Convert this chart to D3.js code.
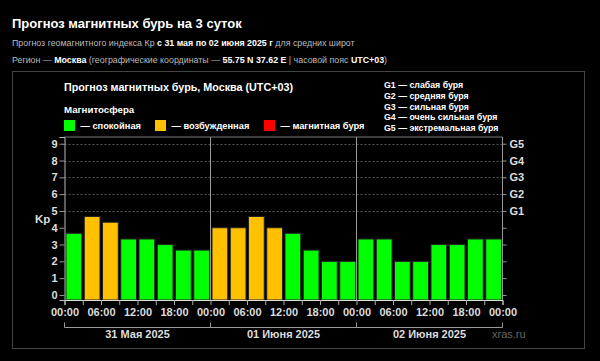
<!DOCTYPE html>
<html><head><meta charset="utf-8">
<script src="https://cdn.jsdelivr.net/npm/d3@7"></script>
<style>
html,body{margin:0;padding:0;background:#000;}
svg{display:block;font-family:"Liberation Sans",Arial,sans-serif;}
</style></head>
<body><svg id="c" width="600" height="361"></svg>
<script>
// ---- data ----
const days = ["31 Мая 2025", "01 Июня 2025", "02 Июня 2025"];
const hourLabels = ["00:00", "06:00", "12:00", "18:00"];
const kpValues = [
  3.67, 4.67, 4.33, 3.33, 3.33, 3.0, 2.67, 2.67,
  4.0, 4.0, 4.67, 4.0, 3.67, 2.67, 2.0, 2.0,
  3.33, 3.33, 2.0, 2.0, 3.0, 3.0, 3.33, 3.33
];
const kpTicks = [0,1,2,3,4,5,6,7,8,9];
const gLabels = ["G1","G2","G3","G4","G5"];
const gLegend = ["G1 — слабая буря","G2 — средняя буря","G3 — сильная буря","G4 — очень сильная буря","G5 — экстремальная буря"];
const legendItems = [
  {label:"— спокойная", color:"#00ff00"},
  {label:"— возбужденная", color:"#ffc000"},
  {label:"— магнитная буря", color:"#ff0000"}
];

const svg = d3.select("#c");

// header
svg.append("text").attr("x",12).attr("y",28).attr("fill","#fff")
  .attr("font-size",13).attr("font-weight","bold").text("Прогноз магнитных бурь на 3 суток");

function richLine(y, parts){
  const t = svg.append("text").attr("x",12).attr("y",y).attr("font-size",8.85);
  parts.forEach(p=>{
    t.append("tspan").attr("fill", p[1] ? "#fff" : "#bbb")
      .attr("font-weight", p[1] ? "bold" : "normal").text(p[0]);
  });
}
richLine(46, [["Прогноз геомагнитного индекса Кр ",0],["с 31 мая по 02 июня 2025 г",1],[" для средних широт",0]]);
richLine(63, [["Регион — ",0],["Москва",1],[" (географические координаты — ",0],["55.75 N 37.62 E",1],[" | часовой пояс ",0],["UTC+03",1],[")",0]]);

// panel
svg.append("rect").attr("x",12.5).attr("y",71.5).attr("width",572).attr("height",277)
  .attr("fill","none").attr("stroke","#444");

svg.append("text").attr("x",64).attr("y",91).attr("fill","#fff").attr("font-size",10.75)
  .attr("font-weight","bold").text("Прогноз магнитных бурь, Москва (UTC+03)");
svg.append("text").attr("x",64).attr("y",113).attr("fill","#fff").attr("font-size",9.7)
  .attr("font-weight","bold").text("Магнитосфера");

const legX = [64, 155, 264];
legendItems.forEach((d,i)=>{
  svg.append("rect").attr("x",legX[i]).attr("y",120).attr("width",11).attr("height",11).attr("fill",d.color);
  svg.append("text").attr("x",legX[i]+16.5).attr("y",128.7).attr("fill","#fff").attr("font-size",9.3)
    .attr("font-weight","bold").text(d.label);
});
gLegend.forEach((s,i)=>{
  svg.append("text").attr("x",384).attr("y",88 + i*10.8).attr("fill","#fff").attr("font-size",8.8)
    .attr("font-weight","bold").text(s);
});

// scales
const L = 64.5, R = 502.5, T = 137, B = 300;
const x = d3.scaleLinear().domain([0,72]).range([L,R]);
const y = d3.scaleLinear().domain([-0.3,9.4]).range([B,T]);
const color = v => v >= 5 ? "#ff0000" : (v >= 4 ? "#ffc000" : "#00ff00");

// grid
svg.append("g").selectAll("line").data(kpTicks.filter(k=>k>=5)).join("line")
  .attr("x1",L).attr("x2",R).attr("y1",d=>Math.round(y(d))+0.5).attr("y2",d=>Math.round(y(d))+0.5)
  .attr("stroke","#555").attr("stroke-dasharray","2,2");

// bars
const slot = x(3)-x(0);
svg.append("g").selectAll("rect").data(kpValues).join("rect")
  .attr("x",(d,i)=>x(i*3)+1.5).attr("width",slot-2.5)
  .attr("y",d=>y(d)).attr("height",d=>y(-0.3)-y(d))
  .attr("fill",d=>color(d)).attr("stroke","#222").attr("stroke-width",1);

// frame
svg.append("line").attr("x1",L).attr("x2",R).attr("y1",T).attr("y2",T).attr("stroke","#777");
svg.append("line").attr("x1",R).attr("x2",R).attr("y1",T).attr("y2",B).attr("stroke","#999");
// day separators
[1,2].forEach(k=>{
  svg.append("line").attr("x1",x(k*24)).attr("x2",x(k*24)).attr("y1",T).attr("y2",B).attr("stroke","#999");
});

// left axis
const ya = svg.append("g").attr("transform",`translate(${L},0)`)
  .call(d3.axisLeft(y).tickValues(kpTicks).tickSize(5).tickPadding(2).tickFormat(d3.format("d")));
ya.select(".domain").attr("stroke","#bbb");
ya.selectAll(".tick line").attr("stroke","#999");
ya.selectAll("text").attr("fill","#ddd").attr("font-size",11).attr("font-weight","bold")
  .attr("font-family","Liberation Sans, Arial, sans-serif");
svg.append("text").attr("x",35).attr("y",223).attr("fill","#ddd").attr("font-size",11.5)
  .attr("font-weight","bold").text("Kp");

// right axis
const ra = svg.append("g").attr("transform",`translate(${R},0)`)
  .call(d3.axisRight(y).tickValues(kpTicks).tickSize(4).tickPadding(3)
    .tickFormat(d => d >= 5 ? gLabels[d-5] : ""));
ra.select(".domain").remove();
ra.selectAll(".tick line").attr("stroke","#999");
ra.selectAll("text").attr("fill","#ddd").attr("font-size",11).attr("font-weight","bold")
  .attr("font-family","Liberation Sans, Arial, sans-serif");

// bottom axis
const tickHours = d3.range(0,73,3);
const xa = svg.append("g").attr("transform",`translate(0,${B})`)
  .call(d3.axisBottom(x).tickValues(tickHours).tickSize(5).tickPadding(3)
    .tickFormat(h => h%6===0 ? hourLabels[(h%24)/6] : ""));
xa.select(".domain").attr("stroke","#ddd");
xa.selectAll(".tick line").attr("stroke","#aaa");
xa.selectAll("text").attr("fill","#ddd").attr("font-size",11).attr("font-weight","bold")
  .attr("font-family","Liberation Sans, Arial, sans-serif");

// day bracket
const by = 327.5;
svg.append("line").attr("x1",L).attr("x2",R).attr("y1",by).attr("y2",by).attr("stroke","#999");
[0,1,2,3].forEach(k=>{
  svg.append("line").attr("x1",x(k*24)).attr("x2",x(k*24)).attr("y1",by-5).attr("y2",by).attr("stroke","#999");
});
days.forEach((d,i)=>{
  svg.append("text").attr("x",x(i*24+12)).attr("y",338).attr("text-anchor","middle")
    .attr("fill","#ddd").attr("font-size",11).attr("font-weight","bold").text(d);
});
svg.append("text").attr("x",492).attr("y",338).attr("fill","#666").attr("font-size",11).text("xras.ru");
</script></body></html>
